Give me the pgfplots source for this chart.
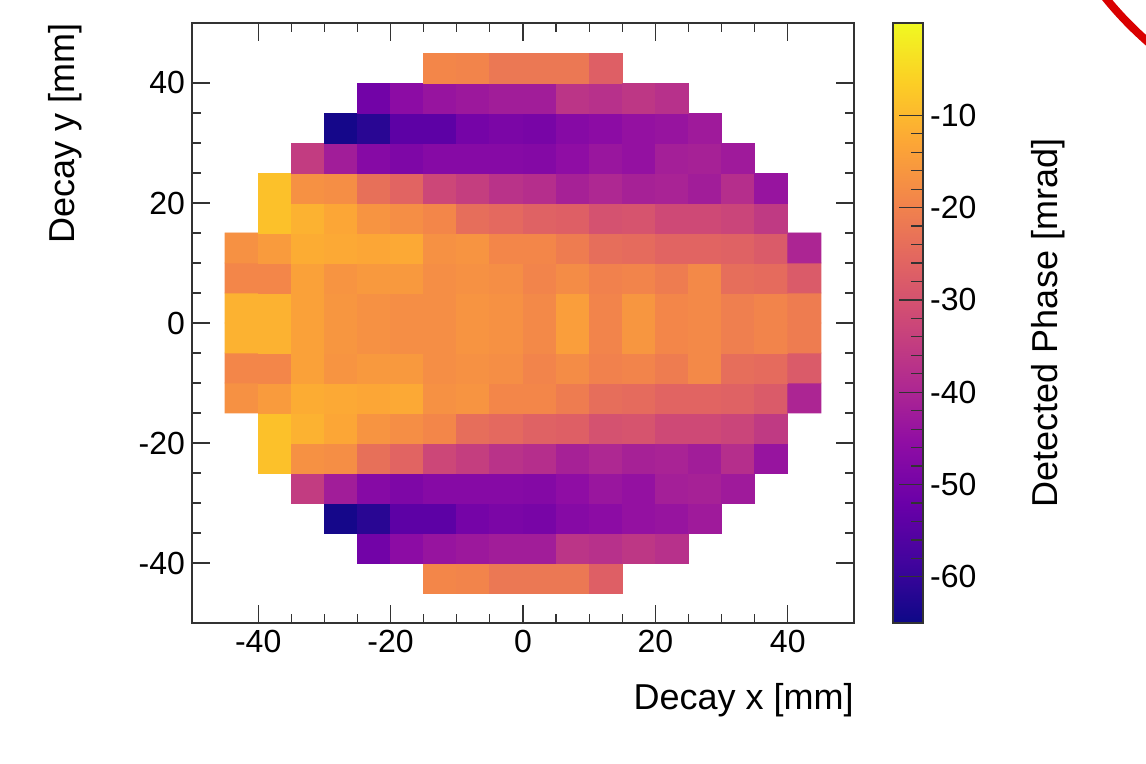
\documentclass[border=0pt]{standalone}
\usepackage{pgfplots}
\pgfplotsset{compat=1.18}
\usepackage{fontspec}
\setmainfont{Liberation Sans}

% plasma colour map (matplotlib stops)
\pgfplotsset{colormap={plasma}{
  rgb255=(13,8,135) rgb255=(65,4,157) rgb255=(106,0,168) rgb255=(143,13,164)
  rgb255=(177,42,144) rgb255=(204,71,120) rgb255=(225,100,98) rgb255=(242,132,75)
  rgb255=(252,166,54) rgb255=(252,206,37) rgb255=(240,249,33)}}

\begin{document}
\begin{tikzpicture}
\useasboundingbox (-96pt,-70.5pt) rectangle (477pt,311.5pt);
\begin{axis}[
  at={(0,0)}, anchor=south west,
  scale only axis,
  width=331pt, height=300pt,
  xmin=-50, xmax=50, ymin=-50, ymax=50,
  xtick={-40,-20,0,20,40},
  ytick={-40,-20,0,20,40},
  minor tick num=3,
  tick align=inside,
  major tick length=9pt, minor tick length=4.5pt,
  tick style={black!80, line width=0.6pt},
  axis line style={black!80, line width=0.8pt},
  ticklabel style={font=\fontsize{16}{19}\selectfont},
  /pgf/number format/assume math mode=true,
  label style={font=\fontsize{18}{21}\selectfont, inner sep=0pt},
  xlabel={Decay x [mm]},
  ylabel={Decay y [mm]},
  xlabel style={at={(axis description cs:1,-0.1)}, anchor=north east},
  ylabel style={at={(axis description cs:-0.166,1)}, anchor=south east},
  colormap name=plasma,
  point meta min=-65, point meta max=0,
  colorbar,
  colorbar style={
    at={(parent axis.north east)}, anchor=north west, xshift=11pt,
    width=15pt,
    ytick={-60,-50,-40,-30,-20,-10},
    minor y tick num=4,
    ytick pos=right, yticklabel pos=right,
    tick align=inside, ytick align=inside,
    major tick length=12pt, minor tick length=6pt,
    tick style={black!80, line width=0.6pt},
    axis line style={black!80, line width=0.8pt},
    yticklabel style={font=\fontsize{16}{19}\selectfont},
    /pgf/number format/assume math mode=true,
    ylabel={Detected Phase [mrad]},
    ylabel style={font=\fontsize{18}{21}\selectfont, inner sep=0pt,
      at={(axis description cs:4.6,0.5)}, anchor=north},
  },
  unbounded coords=jump,
  axis on top,
]
\addplot[matrix plot*, mesh/cols=18, mesh/rows=18, point meta=explicit] coordinates {
(-42.5,-42.5)[nan] (-37.5,-42.5)[nan] (-32.5,-42.5)[nan] (-27.5,-42.5)[nan] (-22.5,-42.5)[nan] (-17.5,-42.5)[nan] (-12.5,-42.5)[-19] (-7.5,-42.5)[-19.5] (-2.5,-42.5)[-22] (2.5,-42.5)[-22] (7.5,-42.5)[-22] (12.5,-42.5)[-27] (17.5,-42.5)[nan] (22.5,-42.5)[nan] (27.5,-42.5)[nan] (32.5,-42.5)[nan] (37.5,-42.5)[nan] (42.5,-42.5)[nan]
(-42.5,-37.5)[nan] (-37.5,-37.5)[nan] (-32.5,-37.5)[nan] (-27.5,-37.5)[nan] (-22.5,-37.5)[-50.5] (-17.5,-37.5)[-46] (-12.5,-37.5)[-44] (-7.5,-37.5)[-43] (-2.5,-37.5)[-42] (2.5,-37.5)[-42] (7.5,-37.5)[-36.5] (12.5,-37.5)[-37.5] (17.5,-37.5)[-36] (22.5,-37.5)[-37.5] (27.5,-37.5)[nan] (32.5,-37.5)[nan] (37.5,-37.5)[nan] (42.5,-37.5)[nan]
(-42.5,-32.5)[nan] (-37.5,-32.5)[nan] (-32.5,-32.5)[nan] (-27.5,-32.5)[-64] (-22.5,-32.5)[-61.5] (-17.5,-32.5)[-54] (-12.5,-32.5)[-54] (-7.5,-32.5)[-50] (-2.5,-32.5)[-49] (2.5,-32.5)[-49.5] (7.5,-32.5)[-47] (12.5,-32.5)[-46] (17.5,-32.5)[-44.5] (22.5,-32.5)[-44] (27.5,-32.5)[-42.5] (32.5,-32.5)[nan] (37.5,-32.5)[nan] (42.5,-32.5)[nan]
(-42.5,-27.5)[nan] (-37.5,-27.5)[nan] (-32.5,-27.5)[-35] (-27.5,-27.5)[-42] (-22.5,-27.5)[-47] (-17.5,-27.5)[-48.5] (-12.5,-27.5)[-47] (-7.5,-27.5)[-47] (-2.5,-27.5)[-47] (2.5,-27.5)[-47.5] (7.5,-27.5)[-45.5] (12.5,-27.5)[-43.5] (17.5,-27.5)[-44.5] (22.5,-27.5)[-41.5] (27.5,-27.5)[-41] (32.5,-27.5)[-42.5] (37.5,-27.5)[nan] (42.5,-27.5)[nan]
(-42.5,-22.5)[nan] (-37.5,-22.5)[-8.5] (-32.5,-22.5)[-17] (-27.5,-22.5)[-17.5] (-22.5,-22.5)[-23.5] (-17.5,-22.5)[-26] (-12.5,-22.5)[-32.5] (-7.5,-22.5)[-34.5] (-2.5,-22.5)[-37] (2.5,-22.5)[-38] (7.5,-22.5)[-41] (12.5,-22.5)[-39.5] (17.5,-22.5)[-41] (22.5,-22.5)[-40.5] (27.5,-22.5)[-42] (32.5,-22.5)[-38] (37.5,-22.5)[-44] (42.5,-22.5)[nan]
(-42.5,-17.5)[nan] (-37.5,-17.5)[-8.5] (-32.5,-17.5)[-11] (-27.5,-17.5)[-13] (-22.5,-17.5)[-16.5] (-17.5,-17.5)[-17.5] (-12.5,-17.5)[-19] (-7.5,-17.5)[-24] (-2.5,-17.5)[-25] (2.5,-17.5)[-26.5] (7.5,-17.5)[-27] (12.5,-17.5)[-30] (17.5,-17.5)[-29.5] (22.5,-17.5)[-32] (27.5,-17.5)[-32] (32.5,-17.5)[-33] (37.5,-17.5)[-35.5] (42.5,-17.5)[nan]
(-42.5,-12.5)[-17] (-37.5,-12.5)[-15] (-32.5,-12.5)[-12] (-27.5,-12.5)[-12.5] (-22.5,-12.5)[-13] (-17.5,-12.5)[-12.5] (-12.5,-12.5)[-17] (-7.5,-12.5)[-16.5] (-2.5,-12.5)[-19] (2.5,-12.5)[-19] (7.5,-12.5)[-21] (12.5,-12.5)[-24] (17.5,-12.5)[-24.5] (22.5,-12.5)[-26] (27.5,-12.5)[-26] (32.5,-12.5)[-26.5] (37.5,-12.5)[-28] (42.5,-12.5)[-40]
(-42.5,-7.5)[-19] (-37.5,-7.5)[-19] (-32.5,-7.5)[-14] (-27.5,-7.5)[-16.5] (-22.5,-7.5)[-15.5] (-17.5,-7.5)[-15.5] (-12.5,-7.5)[-17.5] (-7.5,-7.5)[-17] (-2.5,-7.5)[-17.5] (2.5,-7.5)[-19.5] (7.5,-7.5)[-18] (12.5,-7.5)[-20] (17.5,-7.5)[-19.5] (22.5,-7.5)[-21] (27.5,-7.5)[-18.5] (32.5,-7.5)[-24] (37.5,-7.5)[-24.5] (42.5,-7.5)[-28]
(-42.5,-2.5)[-11] (-37.5,-2.5)[-11] (-32.5,-2.5)[-14] (-27.5,-2.5)[-16] (-22.5,-2.5)[-17] (-17.5,-2.5)[-17.5] (-12.5,-2.5)[-17.5] (-7.5,-2.5)[-16.5] (-2.5,-2.5)[-17] (2.5,-2.5)[-18.5] (7.5,-2.5)[-14.5] (12.5,-2.5)[-19.5] (17.5,-2.5)[-16] (22.5,-2.5)[-19] (27.5,-2.5)[-18.5] (32.5,-2.5)[-20.5] (37.5,-2.5)[-19.5] (42.5,-2.5)[-21]
(-42.5,2.5)[-11] (-37.5,2.5)[-11] (-32.5,2.5)[-14] (-27.5,2.5)[-16] (-22.5,2.5)[-17] (-17.5,2.5)[-17.5] (-12.5,2.5)[-17.5] (-7.5,2.5)[-16.5] (-2.5,2.5)[-17] (2.5,2.5)[-18.5] (7.5,2.5)[-14.5] (12.5,2.5)[-19.5] (17.5,2.5)[-16] (22.5,2.5)[-19] (27.5,2.5)[-18.5] (32.5,2.5)[-20.5] (37.5,2.5)[-19.5] (42.5,2.5)[-21]
(-42.5,7.5)[-19] (-37.5,7.5)[-19] (-32.5,7.5)[-14] (-27.5,7.5)[-16.5] (-22.5,7.5)[-15.5] (-17.5,7.5)[-15.5] (-12.5,7.5)[-17.5] (-7.5,7.5)[-17] (-2.5,7.5)[-17.5] (2.5,7.5)[-19.5] (7.5,7.5)[-18] (12.5,7.5)[-20] (17.5,7.5)[-19.5] (22.5,7.5)[-21] (27.5,7.5)[-18.5] (32.5,7.5)[-24] (37.5,7.5)[-24.5] (42.5,7.5)[-28]
(-42.5,12.5)[-17] (-37.5,12.5)[-15] (-32.5,12.5)[-12] (-27.5,12.5)[-12.5] (-22.5,12.5)[-13] (-17.5,12.5)[-12.5] (-12.5,12.5)[-17] (-7.5,12.5)[-16.5] (-2.5,12.5)[-19] (2.5,12.5)[-19] (7.5,12.5)[-21] (12.5,12.5)[-24] (17.5,12.5)[-24.5] (22.5,12.5)[-26] (27.5,12.5)[-26] (32.5,12.5)[-26.5] (37.5,12.5)[-28] (42.5,12.5)[-40]
(-42.5,17.5)[nan] (-37.5,17.5)[-8.5] (-32.5,17.5)[-11] (-27.5,17.5)[-13] (-22.5,17.5)[-16.5] (-17.5,17.5)[-17.5] (-12.5,17.5)[-19] (-7.5,17.5)[-24] (-2.5,17.5)[-25] (2.5,17.5)[-26.5] (7.5,17.5)[-27] (12.5,17.5)[-30] (17.5,17.5)[-29.5] (22.5,17.5)[-32] (27.5,17.5)[-32] (32.5,17.5)[-33] (37.5,17.5)[-35.5] (42.5,17.5)[nan]
(-42.5,22.5)[nan] (-37.5,22.5)[-8.5] (-32.5,22.5)[-17] (-27.5,22.5)[-17.5] (-22.5,22.5)[-23.5] (-17.5,22.5)[-26] (-12.5,22.5)[-32.5] (-7.5,22.5)[-34.5] (-2.5,22.5)[-37] (2.5,22.5)[-38] (7.5,22.5)[-41] (12.5,22.5)[-39.5] (17.5,22.5)[-41] (22.5,22.5)[-40.5] (27.5,22.5)[-42] (32.5,22.5)[-38] (37.5,22.5)[-44] (42.5,22.5)[nan]
(-42.5,27.5)[nan] (-37.5,27.5)[nan] (-32.5,27.5)[-35] (-27.5,27.5)[-42] (-22.5,27.5)[-47] (-17.5,27.5)[-48.5] (-12.5,27.5)[-47] (-7.5,27.5)[-47] (-2.5,27.5)[-47] (2.5,27.5)[-47.5] (7.5,27.5)[-45.5] (12.5,27.5)[-43.5] (17.5,27.5)[-44.5] (22.5,27.5)[-41.5] (27.5,27.5)[-41] (32.5,27.5)[-42.5] (37.5,27.5)[nan] (42.5,27.5)[nan]
(-42.5,32.5)[nan] (-37.5,32.5)[nan] (-32.5,32.5)[nan] (-27.5,32.5)[-64] (-22.5,32.5)[-61.5] (-17.5,32.5)[-54] (-12.5,32.5)[-54] (-7.5,32.5)[-50] (-2.5,32.5)[-49] (2.5,32.5)[-49.5] (7.5,32.5)[-47] (12.5,32.5)[-46] (17.5,32.5)[-44.5] (22.5,32.5)[-44] (27.5,32.5)[-42.5] (32.5,32.5)[nan] (37.5,32.5)[nan] (42.5,32.5)[nan]
(-42.5,37.5)[nan] (-37.5,37.5)[nan] (-32.5,37.5)[nan] (-27.5,37.5)[nan] (-22.5,37.5)[-50.5] (-17.5,37.5)[-46] (-12.5,37.5)[-44] (-7.5,37.5)[-43] (-2.5,37.5)[-42] (2.5,37.5)[-42] (7.5,37.5)[-36.5] (12.5,37.5)[-37.5] (17.5,37.5)[-36] (22.5,37.5)[-37.5] (27.5,37.5)[nan] (32.5,37.5)[nan] (37.5,37.5)[nan] (42.5,37.5)[nan]
(-42.5,42.5)[nan] (-37.5,42.5)[nan] (-32.5,42.5)[nan] (-27.5,42.5)[nan] (-22.5,42.5)[nan] (-17.5,42.5)[nan] (-12.5,42.5)[-19] (-7.5,42.5)[-19.5] (-2.5,42.5)[-22] (2.5,42.5)[-22] (7.5,42.5)[-22] (12.5,42.5)[-27] (17.5,42.5)[nan] (22.5,42.5)[nan] (27.5,42.5)[nan] (32.5,42.5)[nan] (37.5,42.5)[nan] (42.5,42.5)[nan]
};
\end{axis}
% red circle edge at the top right corner of the page
\draw[line width=4pt, red!85!black] (454pt,316pt) .. controls (461pt,307pt) and (469pt,298pt) .. (482pt,287pt);
\end{tikzpicture}
\end{document}
